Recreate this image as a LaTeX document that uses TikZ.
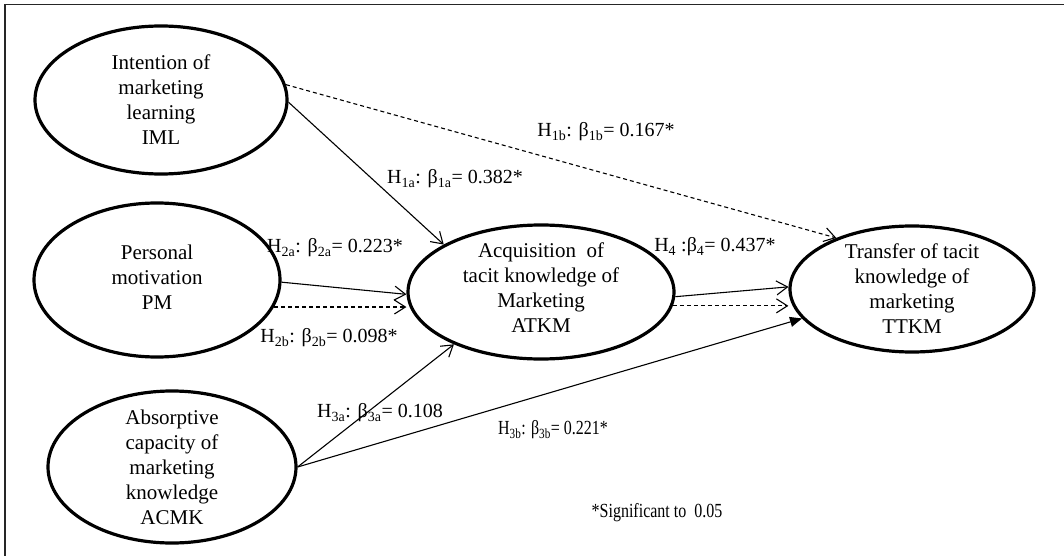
\documentclass[tikz,border=0pt]{standalone}
\usepackage{fontspec}
\setmainfont{Liberation Serif}
\usetikzlibrary{shapes.geometric,arrows.meta}
\begin{document}
\begin{tikzpicture}[x=1pt,y=-1pt,
  ell/.style={ellipse, draw, line width=3.2pt, inner sep=0pt},
  etxt/.style={align=center, font=\fontsize{21}{25}\selectfont, inner sep=0pt},
  lbl/.style={font=\fontsize{20}{24}\selectfont, inner sep=0pt},
  clbl/.style={lbl},
  conn/.style={line width=1.1pt, -{Straight Barb[length=11pt,width=14pt,line width=1.1pt]}},
  dconn/.style={conn, dash pattern=on 4pt off 3pt},
  fconn/.style={line width=1.1pt, -{Triangle[length=12pt,width=10pt]}}]
\useasboundingbox (0,0) rectangle (1064,556);
\draw[black!85, line width=1.3pt] (5,556) -- (5,4.5) -- (1064,4.5);

% ellipses
\node[ell, minimum width=252pt, minimum height=148pt] (iml) at (161,100) {};
\node[ell, minimum width=246pt, minimum height=154pt] (pm) at (157,280) {};
\node[ell, minimum width=248pt, minimum height=152pt] (acmk) at (172,467) {};
\node[ell, minimum width=266pt, minimum height=134pt] (atkm) at (541,292) {};
\node[ell, minimum width=244pt, minimum height=126pt] (ttkm) at (912,289) {};

% texts
\node[etxt] (imlt) at (iml) {Intention of\\marketing\\learning\\IML};
\node[etxt] (pmt) at ([yshift=3pt]pm.center) {Personal\\motivation\\PM};
\node[etxt] (acmkt) at (acmk) {Absorptive\\capacity of\\marketing\\knowledge\\ACMK};
\node[etxt] (atkmt) at ([yshift=4pt]atkm.center) {Acquisition\ \ of\\tacit knowledge of\\Marketing\\ATKM};
\node[etxt] (ttkmt) at (ttkm) {Transfer of tacit\\knowledge of\\marketing\\TTKM};

% connectors
\draw[conn] (iml.-1) -- (atkm.154);
\draw[dconn] (iml.7) -- (ttkm.146);
\draw[conn] (pm.-1) -- (atkm.181);
\draw[dconn] (pm.-13) -- (pm.-13 -| atkm.west);
\draw[conn] (acmk.0) -- (atkm.211);
\draw[fconn] (acmk.0) -- (ttkm.195);
\draw[conn] (atkm.-2) -- (ttkm.179);
\draw[dconn] (atkm.-6) -- (atkm.-6 -| ttkm.west);

% labels
\node[lbl] (l1b) at (606,132) {H\textsubscript{1b}: β\textsubscript{1b}= 0.167*};
\node[lbl] (l1a) at (455,179) {H\textsubscript{1a}: β\textsubscript{1a}= 0.382*};
\node[lbl] (l2a) at (335,248) {H\textsubscript{2a}: β\textsubscript{2a}= 0.223*};
\node[lbl] (l2b) at (329,338) {H\textsubscript{2b}: β\textsubscript{2b}= 0.098*};
\node[lbl] (l3a) at (380,413) {H\textsubscript{3a}: β\textsubscript{3a}= 0.108};
\node[lbl] (l3b) at (553,430) {\scalebox{0.8}[1]{H\textsubscript{3b}: β\textsubscript{3b}= 0.221*}};
\node[lbl] (l4) at (715,247) {H\textsubscript{4} :β\textsubscript{4}= 0.437*};
\node[lbl] (sig) at (657,513) {\scalebox{0.8}[1]{*Significant to\ \ 0.05}};
\end{tikzpicture}
\end{document}
